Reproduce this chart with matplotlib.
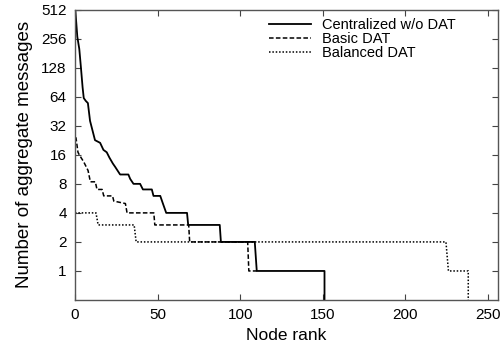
import matplotlib
matplotlib.use('Agg')
import matplotlib.pyplot as plt
from matplotlib.ticker import FixedLocator, FixedFormatter

plt.rcParams['font.family'] = ['Liberation Sans', 'DejaVu Sans']

# Centralized w/o DAT
cen_x = [0, 1.4, 2.6, 3.6, 4.6, 5.3, 6.5, 7.8, 9.1, 12.1, 15.2, 17.2, 19.2, 20.8, 22.9,
         24.3, 27.3, 32.3, 33.4, 35.4, 39.4, 41.1, 46.5, 47.5, 51.6, 53.2, 55.2,
         67.8, 68.5, 87.6, 88.3, 108.8, 110, 151, 151]
cen_y = [560, 268, 200, 128, 80, 62, 58, 55, 36, 22.7, 21.3, 18, 17, 15, 13,
         12, 10, 10, 9, 8, 8, 7, 7, 6, 6, 5, 4,
         4, 3, 3, 2, 2, 1, 1, 0.4]

# Basic DAT
bas_x = [0, 0.6, 1.8, 2.6, 5.3, 7.9, 9.3, 12.3, 13.3, 16.4, 17.4, 22.7, 23.5, 30.5,
         31.5, 47.7, 48.3, 68.8, 69.4, 104.5, 105.2, 110]
bas_y = [24, 24, 17, 16, 13.5, 11, 8.4, 8.4, 7, 7, 6, 6, 5.3, 5,
         4, 4, 3, 3, 2, 2, 1, 1]

# Balanced DAT
bal_x = [0, 12.7, 14, 35.8, 37, 224.5, 226, 238, 238]
bal_y = [4, 4, 3, 3, 2, 2, 1, 1, 0.4]

yticks = [1, 2, 4, 8, 16, 32, 64, 128, 256, 512]
xticks = [0, 50, 100, 150, 200, 250]

fig = plt.figure(figsize=(5, 3.49), dpi=100)
ax = fig.add_axes([0.15, 0.1404, 0.846, 0.832])

ax.plot(cen_x, cen_y, color='black', lw=1.3, label='Centralized w/o DAT')
ax.plot(bas_x, bas_y, color='black', lw=1.1, linestyle=(0, (3, 1.5)), label='Basic DAT')
ax.plot(bal_x, bal_y, color='black', lw=1.1, linestyle=(0, (1, 1.2)), label='Balanced DAT')

ax.set_yscale('log', base=2)
ax.set_ylim(0.5, 512)
ax.set_xlim(0, 256)
ax.yaxis.set_major_locator(FixedLocator(yticks))
ax.yaxis.set_major_formatter(FixedFormatter([str(v) for v in yticks]))
ax.yaxis.set_minor_locator(FixedLocator([]))
ax.set_xticks(xticks)

ax.tick_params(direction='in', top=True, right=True, length=4, width=0.8,
               labelsize=11, pad=6, color='#444444')
for s in ax.spines.values():
    s.set_color('#555555')
    s.set_linewidth(1.0)

ax.set_xlabel('Node rank', fontsize=12.5, labelpad=4)
ax.set_ylabel('Number of aggregate messages', fontsize=13.5, labelpad=6)

ax.legend(loc='upper right', frameon=False, fontsize=10.5, handlelength=2.9,
          handletextpad=0.7, labelspacing=0.0, borderaxespad=0.2,
          bbox_to_anchor=(0.92, 1.0))

fig.savefig('out.png', dpi=100)
